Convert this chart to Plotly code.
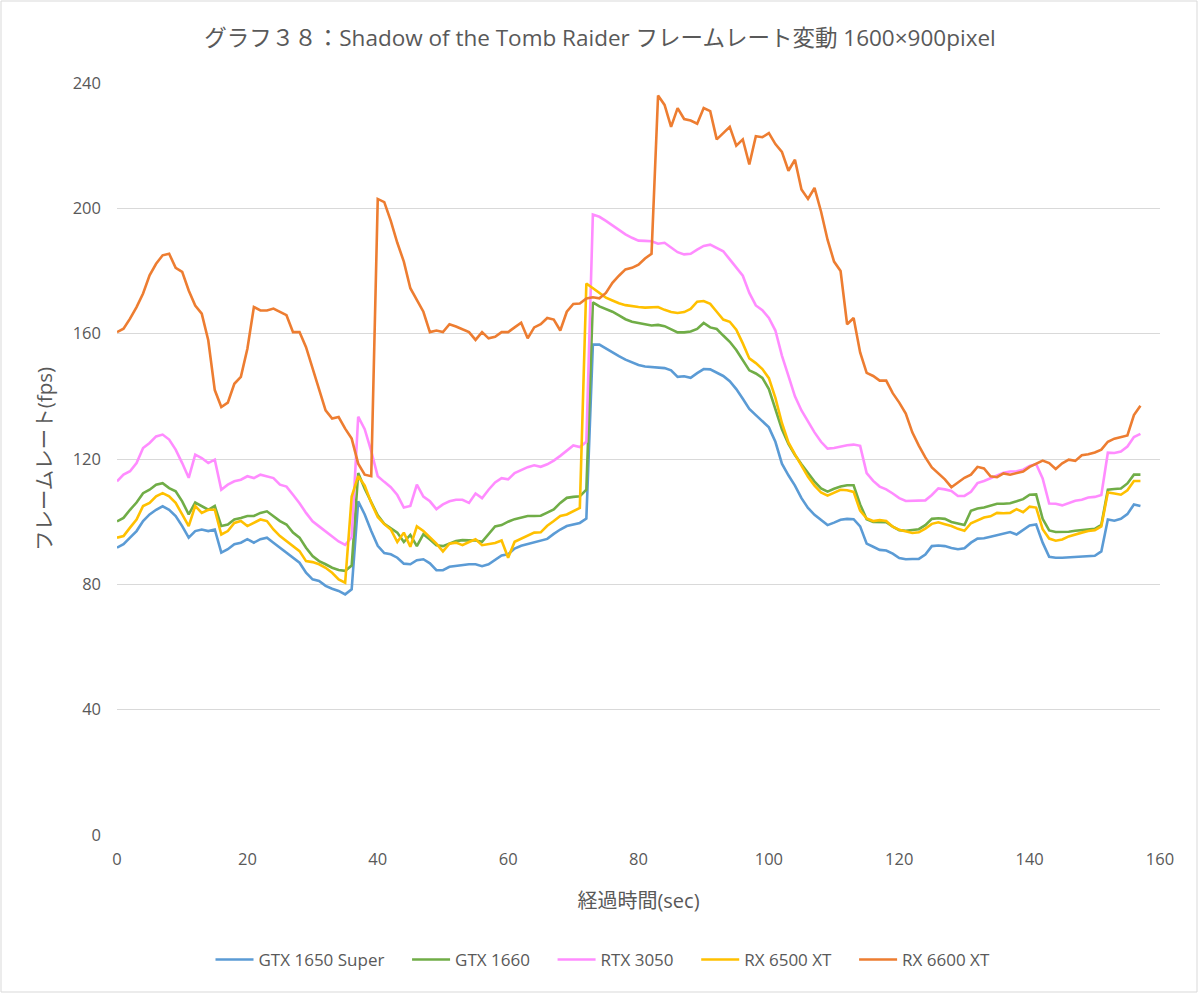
import plotly.graph_objects as go

time_sec = list(range(0, 158))

gtx1650s = [91.7, 92.8, 94.9, 97, 100.2, 102.3, 103.8, 104.9, 103.8, 101.8,
            98.6, 94.9, 97, 97.5, 97, 97.5, 90.1, 91.2, 92.8, 93.3,
            94.4, 93.3, 94.4, 94.9, 93.3, 91.7, 90.1, 88.5, 86.9, 83.7,
            81.6, 81.1, 79.5, 78.6, 77.9, 76.8, 78.4, 106.5, 102.3, 97,
            92.3, 90, 89.6, 88.5, 86.6, 86.4, 87.7, 88, 86.7, 84.5,
            84.5, 85.6, 85.9, 86.2, 86.4, 86.4, 85.8, 86.4, 87.8, 89.2,
            89.6, 91.4, 92.3, 92.9, 93.4, 93.9, 94.5, 96.1, 97.5, 98.6,
            99.1, 99.6, 101, 156.5, 156.5, 155.2, 153.9, 152.8, 151.7, 150.9,
            150, 149.5, 149.3, 149.1, 149, 148.3, 146.2, 146.4, 145.9, 147.4,
            148.7, 148.6, 147.6, 146.5, 144.8, 142.3, 139.2, 136, 134, 132.2,
            130.1, 125.5, 118.5, 114.8, 111.5, 107.5, 104.4, 102.2, 100.5, 98.9,
            99.7, 100.6, 100.9, 100.8, 98.5, 93, 92, 91, 90.8, 89.8,
            88.4, 88, 88.1, 88.1, 89.5, 92.2, 92.4, 92.2, 91.6, 91.2,
            91.5, 93.3, 94.6, 94.7, 95.2, 95.7, 96, 96.7, 95.9, 97.5,
            98.8, 99.1, 93.3, 88.8, 88.5, 88.5, 88.6, 88.8, 89, 89.1,
            89.1, 90.5, 100.7, 100.3, 100.9, 102.4, 105.5, 105]

gtx1660 = [100.1, 101.2, 103.8, 106.1, 109.1, 110.2, 111.8, 112.3, 110.7, 109.7,
           106.5, 102.3, 106.1, 105, 103.8, 105, 98.6, 99.1, 100.7, 101.2,
           101.8, 101.8, 102.8, 103.3, 101.8, 100.2, 99.1, 96.5, 94.9, 91.7,
           89, 87.4, 86.4, 85.3, 84.6, 84.3, 86, 115.5, 110.5, 106,
           102, 99.3, 98, 96.5, 93.5, 95.8, 92.2, 96, 94.3, 92.5,
           92.2, 93, 93.8, 94.1, 94, 94, 93.6, 96, 98.5, 98.9,
           100, 100.8, 101.4, 101.8, 101.8, 101.9, 102.9, 103.9, 106, 107.6,
           107.9, 108.1, 110.2, 170, 168.7, 167.8, 167, 165.8, 164.6, 163.8,
           163.3, 163, 162.6, 162.8, 162.4, 161.3, 160.4, 160.4, 160.7, 161.5,
           163.4, 162, 161.5, 159.4, 157.4, 154.8, 151.5, 148.3, 147.3, 145.9,
           142.3, 135.5, 129.5, 124.8, 121.3, 118.3, 115.5, 112.8, 110.6, 109.6,
           110.5, 111.2, 111.6, 111.6, 105.5, 100.8, 99.9, 99.8, 99.8, 98.4,
           97.3, 97.1, 97.3, 97.6, 98.9, 100.9, 101.1, 100.9, 99.9, 99.4,
           98.9, 103.5, 104.2, 104.5, 105.2, 105.7, 105.7, 105.9, 106.5, 107.2,
           108.6, 108.7, 100.9, 97.2, 96.7, 96.7, 96.8, 97.1, 97.3, 97.5,
           97.7, 99, 110.2, 110.4, 110.6, 112.2, 115, 115]

rtx3050 = [112.9, 115, 116.1, 118.7, 123.5, 125.1, 127.2, 127.8, 126.2, 123,
           118.7, 114, 121.4, 120.3, 118.7, 119.8, 110.2, 111.8, 112.9, 113.4,
           114.5, 113.9, 115, 114.5, 113.9, 111.8, 111.2, 108.6, 105.9, 102.8,
           100.1, 98.5, 96.9, 95.3, 93.7, 92.6, 95, 133.5, 129.5, 122.5,
           114.5, 112.7, 111, 108.5, 104.5, 105, 111.8, 108, 106.5, 104,
           105.5, 106.5, 107, 107, 106, 109, 107.5, 110.2, 112.5, 113.9,
           113.5, 115.5, 116.5, 117.4, 118, 117.5, 118.3, 119.5, 121, 122.7,
           124.3, 123.8, 125.5, 198, 197.3, 196, 194.5, 193, 191.7, 190.6,
           189.7, 189.6, 189.5, 188.7, 189, 187.5, 186, 185.3, 185.5, 186.8,
           188, 188.4, 187.3, 186.3, 183.7, 181.2, 178.5, 173, 169, 167.5,
           165, 161, 153, 146.5, 140, 135.5, 132, 128.5, 125.5, 123.3,
           123.5, 124, 124.4, 124.6, 124.2, 115.5, 113, 111.2, 110.3, 109,
           107.5, 106.6, 106.7, 106.8, 106.8, 108.5, 110.6, 110.3, 109.8, 108.2,
           108.2, 109.5, 112.3, 113, 113.9, 114.8, 115.6, 116, 116.1, 116.6,
           117.8, 118.4, 113.8, 105.8, 105.7, 105.2, 106, 106.7, 107, 107.7,
           107.9, 108.5, 122, 121.9, 122.4, 124, 127, 128]

rx6500xt = [94.9, 95.4, 98.1, 100.7, 105, 106, 108.1, 109.1, 108.1, 106,
            102.3, 98.6, 105, 102.8, 103.8, 103.8, 95.9, 97, 99.6, 100.2,
            98.6, 99.6, 100.7, 100.2, 97.5, 95.4, 93.8, 92.2, 90.6, 87.4,
            87.1, 86.4, 85.3, 83.7, 81.6, 80.5, 108, 114.5, 111.5, 106,
            101.5, 99.2, 97.5, 93.5, 96.5, 92, 98.5, 97, 95, 93,
            90.5, 93, 93.3, 92.5, 93.5, 94.4, 92.5, 92.8, 93.2, 94,
            88.5, 93.6, 94.6, 95.6, 96.5, 96.6, 98.7, 100.2, 101.8, 102.3,
            103.3, 104.4, 176, 174.5, 172.8, 171.5, 170.6, 169.7, 169.1, 168.7,
            168.5, 168.3, 168.5, 168.5, 167.6, 166.9, 166.6, 166.9, 167.9, 170.2,
            170.4, 169.5, 167, 164.5, 163.8, 161.3, 156.9, 152.1, 150.6, 148.7,
            145.8, 139.5, 131.5, 125.3, 121.5, 117.8, 114.3, 111.5, 109.3, 108.3,
            109.2, 110.2, 110, 109.5, 103.5, 101, 100.2, 100.5, 100.2, 98.4,
            97.4, 97, 96.4, 96.6, 97.8, 99.3, 99.8, 99.2, 98.6, 97.7,
            97.1, 99.5, 100.4, 101.3, 101.7, 102.8, 102.7, 102.8, 104, 103,
            104.8, 104.5, 97.6, 94.6, 93.9, 94.3, 95.3, 96, 96.5, 97,
            97.3, 98.5, 109.3, 109, 108.6, 110, 113, 113]

rx6600xt = [160.5, 161.6, 164.8, 168.5, 172.8, 178.6, 182.3, 185, 185.5, 181,
            179.7, 173.8, 169, 166.4, 157.9, 142, 136.6, 138, 144, 146.2,
            155.2, 168.5, 167.4, 167.4, 168, 167, 165.9, 160.5, 160.5, 155.7,
            148.8, 142, 135.5, 132.9, 133.4, 129.7, 126.5, 118.5, 115, 114.5,
            203, 202, 196, 189, 183, 174.5, 170.6, 167, 160.5, 161,
            160.5, 163, 162.3, 161.5, 160.5, 158, 160.5, 158.5, 159, 160.5,
            160.5, 162, 163.5, 158.5, 162, 163, 165, 164.5, 161, 167,
            169.5, 169.6, 171.2, 171.6, 171.3, 173, 176.2, 178.5, 180.5, 181,
            182, 184, 185.5, 236, 233, 226, 232, 228.5, 228, 227,
            232, 231, 222, 224, 226, 220, 222, 214, 223, 222.7,
            224, 220.5, 218, 212, 215.5, 206, 203, 206.5, 199, 190,
            183, 180, 163, 165, 154, 147.5, 146.5, 145, 145, 141,
            138, 134.5, 128.5, 124.3, 120.5, 117.3, 115.4, 113.5, 111, 112.5,
            114, 115, 117.5, 117, 114.5, 114.2, 115.4, 115, 115.4, 116,
            117.5, 118.5, 119.5, 118.7, 116.8, 118.6, 119.8, 119.4, 121.2, 121.5,
            122.1, 123, 125.5, 126.5, 127, 127.5, 134, 137]

series_names = ["GTX 1650 Super", "GTX 1660", "RTX 3050", "RX 6500 XT", "RX 6600 XT"]
series_values = [gtx1650s, gtx1660, rtx3050, rx6500xt, rx6600xt]
series_colors = ["#5B9BD5", "#70AD47", "#FF8CFF", "#FFC000", "#ED7D31"]

x_ticks = [0, 20, 40, 60, 80, 100, 120, 140, 160]
y_ticks = [0, 40, 80, 120, 160, 200, 240]

FONT = "Open Sans, Noto Sans CJK JP, sans-serif"
GREY = "#595959"
PAD = "\u00a0" * 4  # visual spacing between legend entries

fig = go.Figure()
for i, (name, vals, col) in enumerate(zip(series_names, series_values, series_colors)):
    label = name + (PAD if i < len(series_names) - 1 else "")
    fig.add_trace(go.Scatter(x=time_sec, y=vals, mode="lines", name=label,
                             line=dict(color=col, width=2.6)))

fig.update_layout(
    width=1200, height=993,
    paper_bgcolor="white", plot_bgcolor="white",
    margin=dict(l=117, r=40, t=83, b=158, autoexpand=False),
    font=dict(family=FONT, color=GREY, size=16),
    title=dict(text="グラフ３８：Shadow of the Tomb Raider フレームレート変動 1600×900pixel",
               x=0.5, xanchor="center", y=1 - 38 / 993, yanchor="middle",
               font=dict(size=22.5, color=GREY, family=FONT)),
    legend=dict(orientation="h", x=(603 - 117) / 1043, xanchor="center",
                y=-125 / 752, yanchor="middle",
                font=dict(size=17, color=GREY), itemwidth=38, traceorder="normal"),
    xaxis=dict(range=[0, 160], tickvals=x_ticks, showgrid=False, zeroline=False,
               showline=False, ticks="", tickfont=dict(size=16.5, color=GREY),
               ticklabelstandoff=12,
               title=dict(text="経過時間(sec)", font=dict(size=20, color=GREY), standoff=25)),
    yaxis=dict(range=[0, 240], tickvals=y_ticks, showgrid=True, gridcolor="#D9D9D9",
               gridwidth=1, zeroline=False, showline=False, ticks="",
               tickfont=dict(size=16.5, color=GREY), ticklabelstandoff=15,
               title=dict(text="フレームレート(fps)", font=dict(size=20.5, color=GREY), standoff=14)),
    shapes=[dict(type="rect", xref="paper", yref="paper",
                 x0=-116 / 1043, x1=1 + 37 / 1043, y0=-157 / 752, y1=1 + 82 / 752,
                 line=dict(color="#D9D9D9", width=1), fillcolor="rgba(0,0,0,0)")],
)

fig.write_html("out.html", config={"displayModeBar": False},
               post_script="document.body.style.margin='0px';")
